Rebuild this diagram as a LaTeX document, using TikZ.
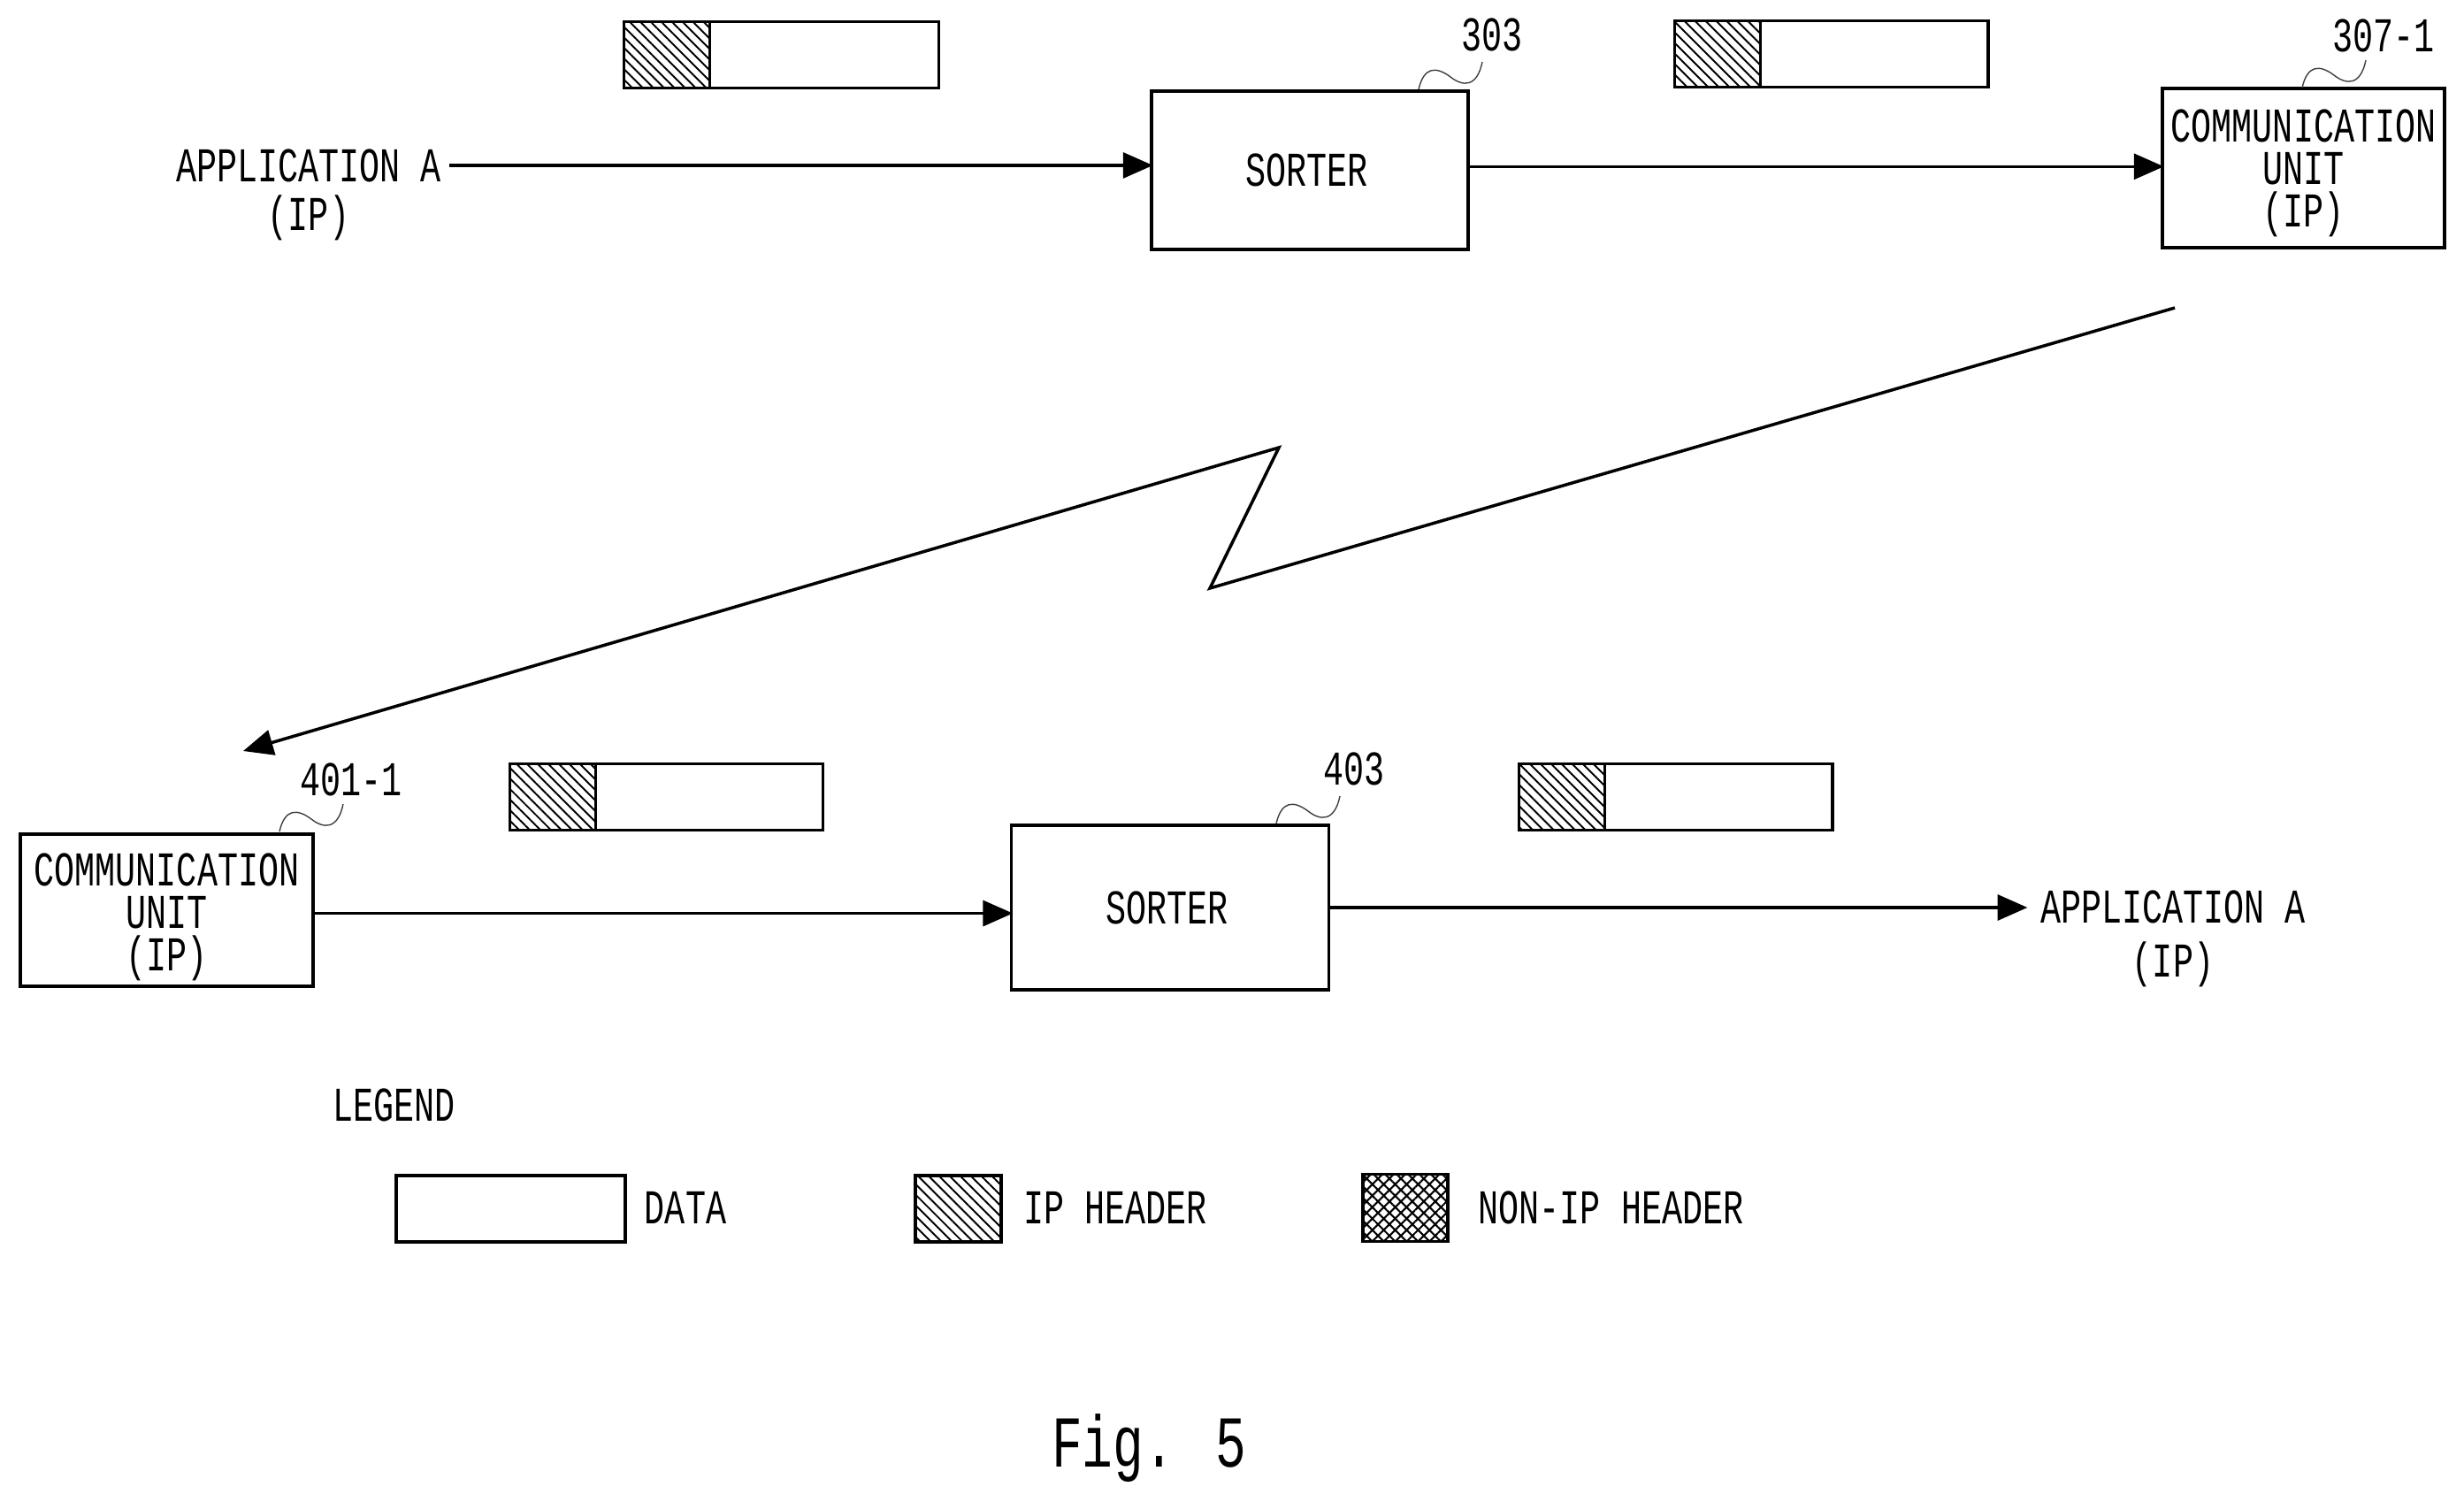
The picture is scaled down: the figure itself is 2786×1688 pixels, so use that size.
\documentclass[tikz,border=0pt]{standalone}
\usepackage{fontspec}
\usetikzlibrary{arrows.meta,patterns.meta,calc}
\newfontfamily\labfont[FakeStretch=0.7]{Liberation Mono}
\newfontfamily\figfont[FakeStretch=0.7]{Liberation Mono}
\tikzset{
  x=0.01cm,y=-0.01cm,
  boxn/.style={draw=black,line width=1pt,fill=white,inner sep=0pt,align=center,
    font=\labfont\fontsize{15.6}{13.6}\selectfont},
  txt/.style={inner sep=2.5pt,align=center,font=\labfont\fontsize{15.6}{15.6}\selectfont},
  txtwide/.style={inner sep=2.5pt,align=center,font=\labfont\fontsize{15.6}{17.2}\selectfont},
  refl/.style={inner sep=0pt,font=\labfont\fontsize{15.6}{15.6}\selectfont},
  conn/.style={line width=1pt,-{Triangle[length=9.6pt,width=8.2pt]}},
  hconn/.style={conn,shorten >=-1pt},
  leader/.style={line width=.4pt,black!75},
  databox/.style={draw=black,line width=1pt,fill=white,inner sep=0pt,minimum height=21.2pt},
  iphdr/.style={draw=black,line width=1pt,inner sep=0pt,minimum width=27.6pt,minimum height=21.2pt,
    pattern={Lines[angle=-45,distance=2.4pt,line width=.55pt]}},
  nonip/.style={draw=black,line width=1pt,inner sep=0pt,minimum width=27.3pt,minimum height=21.6pt,
    pattern={Hatch[angle=45,distance=2.6pt,line width=.6pt]}},
}
\newcommand{\leaderat}[1]{\draw[leader,shift={(#1)}] (0,0) .. controls (6,-26) and (20,-26) .. (36,-14) .. controls (50,-3) and (66,-2) .. (72,-31);}
\begin{document}
\begin{tikzpicture}
\useasboundingbox (0,0) rectangle (2786,1688);
% top row
\node[txt] (appA) at (349,220) {APPLICATION A\\(IP)};
\node[boxn,minimum width=101.9pt,minimum height=50.9pt] (sorterA) at (1481,192.5) {SORTER\hspace*{2pt}};
\node[boxn,minimum width=90.8pt,minimum height=51.2pt] (commA) at (2604.5,190) {\rule{0pt}{13.7pt}COMMUNICATION\\UNIT\\(IP)};
\node[refl] (r303) at (1687,39) {303};
\node[refl] (r307) at (2695,40) {307-1};
\leaderat{1604,101}
\leaderat{2603,99}
\draw[hconn] ([yshift=9.4pt]appA.east) -- ([yshift=9.4pt]appA.east -| sorterA.west);
\draw[hconn] ([yshift=1.2pt]sorterA.east) -- ([yshift=1.2pt]sorterA.east -| commA.west);
% packets top
\node[databox,minimum width=73.7pt] (d1) at (932,62) {};
\node[iphdr] (h1) at (754,62) {};
\node[databox,minimum width=73.2pt] (d2) at (2119,61) {};
\node[iphdr] (h2) at (1942,61) {};
% radio link
\coordinate (z0) at (2459,348);
\coordinate (z1) at (1368,665);
\coordinate (z2) at (1446,506);
\coordinate (z3) at (275,849);
\draw[conn] (z0) -- (z1) -- (z2) -- (z3);
% bottom row
\node[boxn,minimum width=94.2pt,minimum height=48.9pt] (commB) at (188.5,1029) {\rule{0pt}{14.9pt}COMMUNICATION\\UNIT\\(IP)};
\node[boxn,minimum width=102.1pt,minimum height=52.9pt] (sorterB) at (1323,1026) {SORTER\hspace*{2pt}};
\node[txtwide] (appB) at (2457,1061.5) {APPLICATION A\\(IP)};
\node[refl] (r401) at (397,881) {401-1};
\node[refl] (r403) at (1531,869) {403};
\leaderat{316,940}
\leaderat{1443,931}
\draw[hconn] ([yshift=-1pt]commB.east) -- ([yshift=-1pt]commB.east -| sorterB.west);
\draw[conn,shorten >=1.5pt] (sorterB.east) -- (sorterB.east -| appB.west);
\node[databox,minimum width=73.2pt] (d3) at (802,901) {};
\node[iphdr] (h3) at (625,901) {};
\node[databox,minimum width=73.2pt] (d4) at (1943,901) {};
\node[iphdr] (h4) at (1766,901) {};
% legend
\node[refl] (legend) at (445.5,1249) {LEGEND};
\node[databox,minimum width=73.7pt] (ld) at (577.5,1366.5) {};
\node[refl] (ldt) at (775,1365) {DATA};
\node[iphdr] (li) at (1083.5,1366.5) {};
\node[refl] (lit) at (1261,1365) {IP HEADER};
\node[nonip] (ln) at (1589,1365.5) {};
\node[refl] (lnt) at (1821.5,1365) {NON-IP HEADER};
% caption
\node[inner sep=0pt,font=\figfont\fontsize{23.5}{23.5}\selectfont] (cap) at (1299,1637) {Fig. 5};
\end{tikzpicture}
\end{document}
